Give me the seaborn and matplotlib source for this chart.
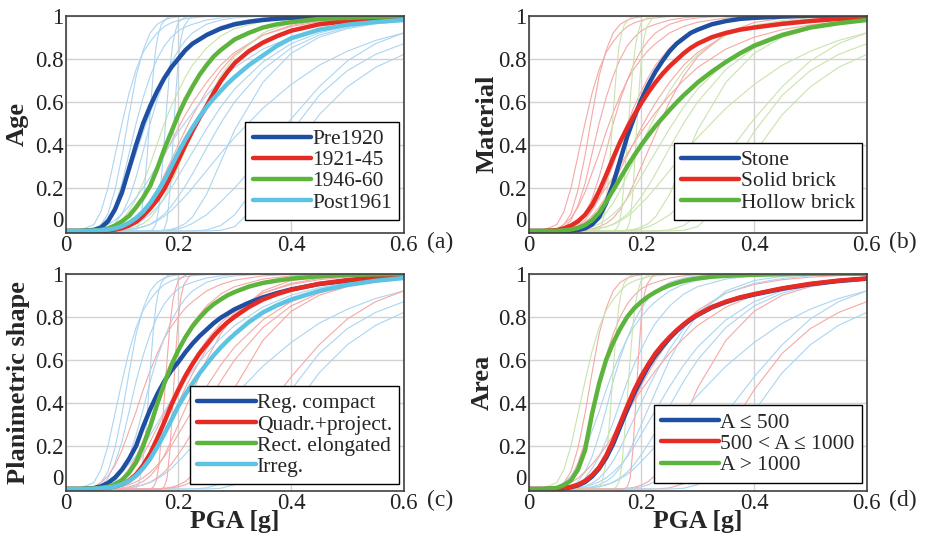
import matplotlib
matplotlib.use("Agg")
import matplotlib.pyplot as plt
import seaborn as sns

# PGA sampling points (g) for the mean fragility curves
pga = [0, 0.025, 0.05, 0.0625, 0.075, 0.0875, 0.1, 0.1125, 0.125, 0.1375, 0.15,
       0.1625, 0.175, 0.1875, 0.2, 0.2125, 0.225, 0.2375, 0.25, 0.2625, 0.275,
       0.2875, 0.3, 0.325, 0.35, 0.375, 0.4, 0.45, 0.5, 0.55, 0.6]

# (a) Age
pre1920 = [0, 0, 0.005, 0.015, 0.045, 0.10, 0.18, 0.29, 0.40, 0.50, 0.58, 0.65, 0.71, 0.76, 0.80, 0.84,
           0.87, 0.89, 0.91, 0.925, 0.94, 0.95, 0.96, 0.972, 0.98, 0.986, 0.99, 0.995, 0.998, 1, 1]
age_1921_45 = [0, 0, 0, 0, 0.002, 0.006, 0.013, 0.025, 0.043, 0.07, 0.105, 0.145, 0.195, 0.26, 0.33, 0.40,
               0.465, 0.525, 0.58, 0.64, 0.695, 0.74, 0.78, 0.835, 0.875, 0.905, 0.93, 0.96, 0.975, 0.985, 0.99]
age_1946_60 = [0, 0, 0.002, 0.005, 0.012, 0.025, 0.045, 0.07, 0.11, 0.155, 0.21, 0.29, 0.38, 0.46, 0.54, 0.61,
               0.67, 0.725, 0.77, 0.81, 0.84, 0.865, 0.89, 0.92, 0.945, 0.96, 0.97, 0.985, 0.99, 0.995, 0.998]
post1961 = [0, 0, 0.001, 0.003, 0.006, 0.012, 0.022, 0.038, 0.06, 0.09, 0.13, 0.18, 0.235, 0.30, 0.365, 0.425,
            0.48, 0.53, 0.575, 0.615, 0.65, 0.685, 0.715, 0.77, 0.815, 0.86, 0.895, 0.935, 0.958, 0.971, 0.98]

# (b) Material
stone = [0, 0, 0, 0, 0.001, 0.004, 0.012, 0.03, 0.065, 0.13, 0.22, 0.33, 0.44, 0.53, 0.61, 0.68,
         0.74, 0.79, 0.835, 0.87, 0.895, 0.92, 0.935, 0.96, 0.975, 0.985, 0.99, 0.996, 1, 1, 1]
solid_brick = [0, 0, 0.004, 0.012, 0.025, 0.045, 0.075, 0.12, 0.185, 0.26, 0.34, 0.415, 0.48, 0.54, 0.595, 0.645,
               0.69, 0.73, 0.765, 0.795, 0.825, 0.85, 0.87, 0.90, 0.92, 0.935, 0.945, 0.962, 0.975, 0.985, 0.99]
hollow_brick = [0, 0, 0.001, 0.003, 0.007, 0.014, 0.027, 0.05, 0.085, 0.135, 0.19, 0.245, 0.30, 0.352, 0.40, 0.445,
                0.487, 0.525, 0.562, 0.597, 0.63, 0.66, 0.69, 0.74, 0.785, 0.825, 0.86, 0.91, 0.945, 0.965, 0.98]

# (c) Planimetric shape
reg_compact = [0, 0, 0.004, 0.012, 0.028, 0.053, 0.09, 0.14, 0.20, 0.29, 0.37, 0.44, 0.50, 0.55, 0.59, 0.635,
               0.675, 0.71, 0.74, 0.77, 0.795, 0.815, 0.835, 0.865, 0.89, 0.91, 0.927, 0.952, 0.968, 0.98, 0.987]
quadr_project = [0, 0, 0.001, 0.003, 0.006, 0.012, 0.022, 0.04, 0.068, 0.11, 0.165, 0.235, 0.31, 0.39, 0.46, 0.525,
                 0.58, 0.63, 0.67, 0.71, 0.745, 0.775, 0.80, 0.845, 0.88, 0.905, 0.925, 0.953, 0.97, 0.981, 0.988]
rect_elongated = [0, 0, 0.002, 0.005, 0.01, 0.022, 0.042, 0.075, 0.125, 0.20, 0.29, 0.395, 0.49, 0.575, 0.645, 0.705,
                  0.755, 0.795, 0.83, 0.858, 0.88, 0.90, 0.915, 0.94, 0.957, 0.968, 0.977, 0.988, 0.994, 0.997, 0.999]
irregular = [0, 0, 0.001, 0.003, 0.006, 0.012, 0.022, 0.038, 0.062, 0.097, 0.14, 0.195, 0.255, 0.32, 0.385, 0.44,
             0.49, 0.537, 0.58, 0.62, 0.657, 0.69, 0.72, 0.775, 0.82, 0.853, 0.88, 0.92, 0.948, 0.967, 0.98]

# (d) Area
area_small = [0, 0, 0.001, 0.003, 0.008, 0.017, 0.032, 0.058, 0.095, 0.145, 0.21, 0.29, 0.37, 0.445, 0.51, 0.57,
              0.62, 0.662, 0.70, 0.733, 0.762, 0.787, 0.808, 0.843, 0.868, 0.888, 0.903, 0.93, 0.951, 0.966, 0.977]
area_medium = [0, 0, 0.001, 0.004, 0.01, 0.02, 0.037, 0.064, 0.10, 0.155, 0.225, 0.305, 0.385, 0.46, 0.525, 0.58,
               0.63, 0.67, 0.705, 0.737, 0.765, 0.79, 0.81, 0.845, 0.87, 0.89, 0.905, 0.932, 0.953, 0.968, 0.978]
area_large = [0, 0, 0.005, 0.018, 0.04, 0.09, 0.18, 0.35, 0.49, 0.60, 0.68, 0.745, 0.80, 0.84, 0.87, 0.895,
              0.915, 0.932, 0.946, 0.957, 0.966, 0.973, 0.978, 0.986, 0.99, 0.993, 0.995, 0.998, 1, 1, 1]

# individual building curves (thin lines), same set in every panel
pga_thin = [0, 0.025, 0.05, 0.0625, 0.075, 0.0875, 0.1, 0.1125, 0.125, 0.1375, 0.15, 0.1625, 0.175,
            0.1875, 0.2, 0.2125, 0.225, 0.25, 0.275, 0.3, 0.35, 0.4, 0.45, 0.5, 0.55, 0.6]
thin_curves = [
    [0, 0, 0.005, 0.03, 0.08, 0.19, 0.35, 0.54, 0.72, 0.84, 0.92, 0.96, 0.98, 0.99, 0.995, 1, 1, 1, 1, 1, 1, 1, 1, 1, 1, 1],
    [0, 0.002, 0.03, 0.09, 0.2, 0.35, 0.5, 0.64, 0.75, 0.83, 0.88, 0.92, 0.95, 0.967, 0.978, 0.986, 0.99, 0.996, 1, 1, 1, 1, 1, 1, 1, 1],
    [0, 0, 0.003, 0.015, 0.05, 0.12, 0.22, 0.36, 0.5, 0.62, 0.72, 0.8, 0.86, 0.9, 0.93, 0.948, 0.96, 0.98, 0.99, 0.996, 1, 1, 1, 1, 1, 1],
    [0, 0, 0.01, 0.03, 0.06, 0.11, 0.18, 0.27, 0.36, 0.46, 0.55, 0.63, 0.7, 0.755, 0.8, 0.84, 0.87, 0.92, 0.95, 0.97, 0.99, 0.997, 1, 1, 1, 1],
    [0, 0, 0, 0.003, 0.01, 0.035, 0.08, 0.15, 0.25, 0.37, 0.5, 0.61, 0.7, 0.78, 0.84, 0.885, 0.92, 0.96, 0.98, 0.99, 0.998, 1, 1, 1, 1, 1],
    [0, 0, 0, 0.003, 0.01, 0.025, 0.05, 0.095, 0.15, 0.225, 0.31, 0.405, 0.5, 0.58, 0.65, 0.715, 0.77, 0.85, 0.905, 0.94, 0.975, 0.99, 0.996, 1, 1, 1],
    [0, 0, 0.002, 0.005, 0.01, 0.022, 0.04, 0.07, 0.11, 0.16, 0.22, 0.285, 0.35, 0.415, 0.48, 0.54, 0.595, 0.69, 0.77, 0.83, 0.91, 0.95, 0.972, 0.984, 0.991, 0.995],
    [0, 0, 0, 0, 0.002, 0.005, 0.012, 0.027, 0.05, 0.085, 0.13, 0.19, 0.26, 0.33, 0.4, 0.47, 0.535, 0.65, 0.745, 0.82, 0.91, 0.955, 0.978, 0.99, 0.995, 0.998],
    [0, 0, 0, 0, 0, 0.002, 0.005, 0.01, 0.02, 0.035, 0.06, 0.1, 0.155, 0.225, 0.3, 0.375, 0.45, 0.6, 0.72, 0.81, 0.92, 0.968, 0.988, 0.996, 1, 1],
    [0, 0, 0, 0.001, 0.003, 0.006, 0.012, 0.02, 0.033, 0.052, 0.078, 0.11, 0.15, 0.2, 0.255, 0.31, 0.365, 0.475, 0.575, 0.66, 0.785, 0.87, 0.92, 0.952, 0.97, 0.981],
    [0, 0.001, 0.01, 0.018, 0.03, 0.05, 0.08, 0.115, 0.155, 0.2, 0.25, 0.305, 0.36, 0.41, 0.46, 0.505, 0.55, 0.63, 0.7, 0.76, 0.845, 0.9, 0.935, 0.957, 0.971, 0.98],
    [0, 0, 0, 0, 0, 0.001, 0.003, 0.006, 0.011, 0.019, 0.032, 0.052, 0.078, 0.115, 0.16, 0.21, 0.265, 0.385, 0.5, 0.6, 0.75, 0.85, 0.91, 0.945, 0.966, 0.978],
    [0, 0, 0, 0, 0, 0, 0, 0, 0, 0, 0, 0.001, 0.003, 0.008, 0.018, 0.035, 0.065, 0.17, 0.32, 0.47, 0.69, 0.825, 0.9, 0.94, 0.962, 0.975],
    [0, 0, 0, 0, 0.001, 0.002, 0.004, 0.007, 0.012, 0.02, 0.03, 0.047, 0.068, 0.095, 0.128, 0.162, 0.2, 0.28, 0.36, 0.435, 0.57, 0.68, 0.77, 0.835, 0.885, 0.92],
    [0, 0, 0, 0, 0, 0, 0, 0, 0, 0, 0, 0, 0, 0, 0, 0, 0, 0.005, 0.025, 0.075, 0.25, 0.46, 0.63, 0.745, 0.82, 0.87],
    [0, 0, 0, 0, 0, 0, 0, 0, 0, 0, 0, 0, 0, 0, 0, 0, 0, 0, 0.003, 0.02, 0.15, 0.36, 0.54, 0.67, 0.76, 0.82],
    [0, 0, 0, 0, 0, 0, 0, 0, 0, 0, 0, 0, 0.002, 0.005, 0.01, 0.02, 0.035, 0.075, 0.135, 0.2, 0.35, 0.52, 0.67, 0.79, 0.87, 0.92],
]
# very steep individual curves, sampled on their own PGA points
steep_x = [
    [0, 0.12, 0.125, 0.13, 0.135, 0.14, 0.145, 0.15, 0.155, 0.16, 0.165, 0.17, 0.18, 0.19, 0.6],
    [0, 0.15, 0.155, 0.16, 0.165, 0.17, 0.175, 0.18, 0.185, 0.19, 0.195, 0.2, 0.21, 0.22, 0.6],
    [0, 0.17, 0.175, 0.18, 0.185, 0.19, 0.195, 0.2, 0.205, 0.21, 0.22, 0.23, 0.6],
]
steep_y = [
    [0, 0, 0.005, 0.03, 0.09, 0.2, 0.36, 0.55, 0.72, 0.85, 0.92, 0.96, 0.99, 1, 1],
    [0, 0, 0.008, 0.03, 0.1, 0.25, 0.42, 0.6, 0.76, 0.87, 0.93, 0.97, 0.99, 1, 1],
    [0, 0, 0.01, 0.05, 0.18, 0.4, 0.62, 0.8, 0.9, 0.95, 0.99, 1, 1],
]

# class of every thin curve in each panel (17 regular + 3 steep)
thin_classes = ["bbbbbgrrgbbbbbbbbbbb",
                "rrrrrrrgrgrggggggggg",
                "bbbrbrrrrrbrrbbbrbrr",
                "rgrbbbrbbbrbrbrbbggr"]

ylabels = ["Age", "Material", "Planimetric shape", "Area"]
panel_tags = ["(a)", "(b)", "(c)", "(d)"]
legend_labels = [
    ["Pre1920", "1921-45", "1946-60", "Post1961"],
    ["Stone", "Solid brick", "Hollow brick"],
    ["Reg. compact", "Quadr.+project.", "Rect. elongated", "Irreg."],
    ["A \u2264 500", "500 < A \u2264 1000", "A > 1000"],
]
mean_curves = [
    [pre1920, age_1921_45, age_1946_60, post1961],
    [stone, solid_brick, hollow_brick],
    [reg_compact, quadr_project, rect_elongated, irregular],
    [area_small, area_medium, area_large],
]

thick_colors = ["#1f4fa3", "#e62b25", "#5cb43c", "#5cc3e2"]
thin_colors = {"b": "#acd5f1", "r": "#f5a9a6", "g": "#c9e4ad"}

sns.set_style("white")
plt.rcParams["font.family"] = ["Liberation Serif", "DejaVu Serif"]

fig = plt.figure(figsize=(9.26, 5.42), dpi=100)
W, H = 926, 542
lefts = [65.7, 528.7, 65.7, 528.7]
bottoms = [232.7, 232.7, 490.7, 490.7]
legend_y = [0.058, 0.058, 0.029, 0.037]
ylabel_x = [-0.143, -0.123, -0.140, -0.138]

for i in range(4):
    ax = fig.add_axes([lefts[i] / W, (H - bottoms[i]) / H, 338 / W, 217 / H])
    ax.set_axisbelow(True)

    # thin individual curves
    for k, ys in enumerate(thin_curves):
        sns.lineplot(x=pga_thin, y=ys, ax=ax, color=thin_colors[thin_classes[i][k]],
                     linewidth=0.8, estimator=None, sort=False, legend=False)
    for k in range(len(steep_x)):
        c = thin_classes[i][len(thin_curves) + k]
        sns.lineplot(x=steep_x[k], y=steep_y[k], ax=ax, color=thin_colors[c],
                     linewidth=0.8, estimator=None, sort=False, legend=False)

    # thick mean curves
    handles = []
    for ys, col in zip(mean_curves[i], thick_colors):
        sns.lineplot(x=pga, y=ys, ax=ax, color=col, linewidth=3.2,
                     estimator=None, sort=False, legend=False)
        handles.append(ax.lines[-1])

    ax.set_xlim(0, 0.6)
    ax.set_ylim(-0.008, 1)
    ax.set_xticks([0, 0.2, 0.4, 0.6])
    ax.set_xticklabels(["0", "0.2", "0.4", "0.6"])
    ax.set_yticks([0.2, 0.4, 0.6, 0.8, 1])
    ax.set_yticklabels(["0.2", "0.4", "0.6", "0.8", "1"])
    ax.tick_params(axis="both", length=0, labelsize=16.5, pad=1.5, colors="#222222")
    ax.text(-0.007, 0.046, "0", transform=ax.get_yaxis_transform(), ha="right",
            va="center", fontsize=16.5, color="#222222")
    ax.grid(True, color="#d2d2d2", linewidth=1.0)
    for s in ax.spines.values():
        s.set_color("#404040")
        s.set_linewidth(1.2)

    ax.text(ylabel_x[i], 0.5, ylabels[i], transform=ax.transAxes, rotation=90,
            ha="center", va="center", fontsize=19, fontweight="bold")
    ax.text(1.107, -0.045, panel_tags[i], transform=ax.transAxes, ha="center",
            va="center", fontsize=17)
    if i >= 2:
        ax.set_xlabel("PGA [g]", fontsize=18.5, fontweight="bold")
        ax.xaxis.set_label_coords(0.5, -0.09)
        ax.xaxis.label.set_va("top")

    leg = ax.legend(handles, legend_labels[i], loc="lower right",
                    bbox_to_anchor=(0.987, legend_y[i]), borderaxespad=0,
                    fontsize=15.5, handlelength=2.7, handletextpad=0.05,
                    labelspacing=0.05, borderpad=0.35, fancybox=False,
                    framealpha=1, edgecolor="black")
    leg.get_frame().set_linewidth(1.0)

fig.savefig("out.png", dpi=100)
